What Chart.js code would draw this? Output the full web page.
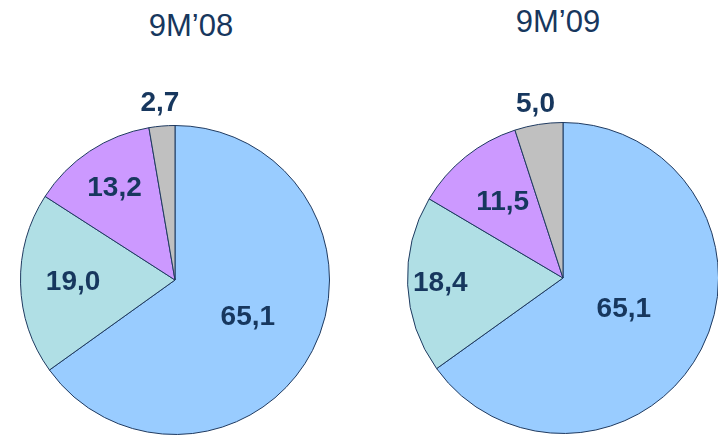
<!DOCTYPE html>
<html>
<head>
<meta charset="utf-8">
<script src="https://cdn.jsdelivr.net/npm/chart.js@4/dist/chart.umd.min.js"></script>
<style>
    html, body { margin: 0; padding: 0; background: #fff; }
    body { width: 718px; height: 435px; position: relative; overflow: hidden; font-family: 'Liberation Sans', Arial, sans-serif; }
    .title { position: absolute; color: #17375e; font-size: 31px; line-height: 36px; text-align: center; width: 200px; }
    #t08 { left: 91px; top: 8px; }
    #t09 { left: 458px; top: 4px; }
    #c08 { position: absolute; left: 0; top: 0; }
    #c09 { position: absolute; left: 380px; top: 0; }
</style>
</head>
<body>
<div class="title" id="t08"></div>
<div class="title" id="t09"></div>
<canvas id="c08" width="359" height="435"></canvas>
<canvas id="c09" width="340" height="435"></canvas>
<script>
// 数据
const periods = ['9M\u201908', '9M\u201909'];
const segments = ['Segment 1', 'Segment 2', 'Segment 3', 'Segment 4'];
const values08 = [65.1, 19.0, 13.2, 2.7];
const values09 = [65.1, 18.4, 11.5, 5.0];

const sliceColors = ['#99ccff', '#b0dfe5', '#cc99ff', '#c0c0c0'];
const textColor = '#17375e';

// 扇区内数值标签（逗号小数）
const sliceLabels = {
    id: 'sliceLabels',
    afterDatasetsDraw(chart, args, opts) {
        const ctx = chart.ctx;
        const meta = chart.getDatasetMeta(0);
        const data = chart.data.datasets[0].data;
        ctx.save();
        ctx.fillStyle = textColor;
        ctx.font = 'bold 28px "Liberation Sans", Arial, sans-serif';
        ctx.textAlign = 'center';
        ctx.textBaseline = 'middle';
        meta.data.forEach((arc, i) => {
            const p = arc.getProps(['x', 'y', 'startAngle', 'endAngle', 'outerRadius'], true);
            const mid = (p.startAngle + p.endAngle) / 2;
            const r = p.outerRadius * opts.factors[i];
            const tx = p.x + Math.cos(mid) * r;
            const ty = p.y + Math.sin(mid) * r;
            ctx.fillText(data[i].toFixed(1).replace('.', ','), tx, ty);
        });
        ctx.restore();
    }
};

function makePie(id, values, padding, factors) {
    return new Chart(document.getElementById(id), {
        type: 'pie',
        data: {
            labels: segments,
            datasets: [{
                data: values,
                backgroundColor: sliceColors,
                borderColor: '#1f3a60',
                borderWidth: 1
            }]
        },
        options: {
            responsive: false,
            animation: false,
            layout: { padding: padding },
            plugins: {
                legend: { display: false },
                tooltip: { enabled: false },
                sliceLabels: { factors: factors }
            }
        },
        plugins: [sliceLabels]
    });
}

document.getElementById('t08').textContent = periods[0];
document.getElementById('t09').textContent = periods[1];

makePie('c08', values08, { left: 20, right: 29, top: 125, bottom: 0 }, [0.53, 0.66, 0.71, 1.15]);
makePie('c09', values09, { left: 27, right: 1, top: 122, bottom: 1 }, [0.44, 0.79, 0.62, 1.13]);
</script>
</body>
</html>
